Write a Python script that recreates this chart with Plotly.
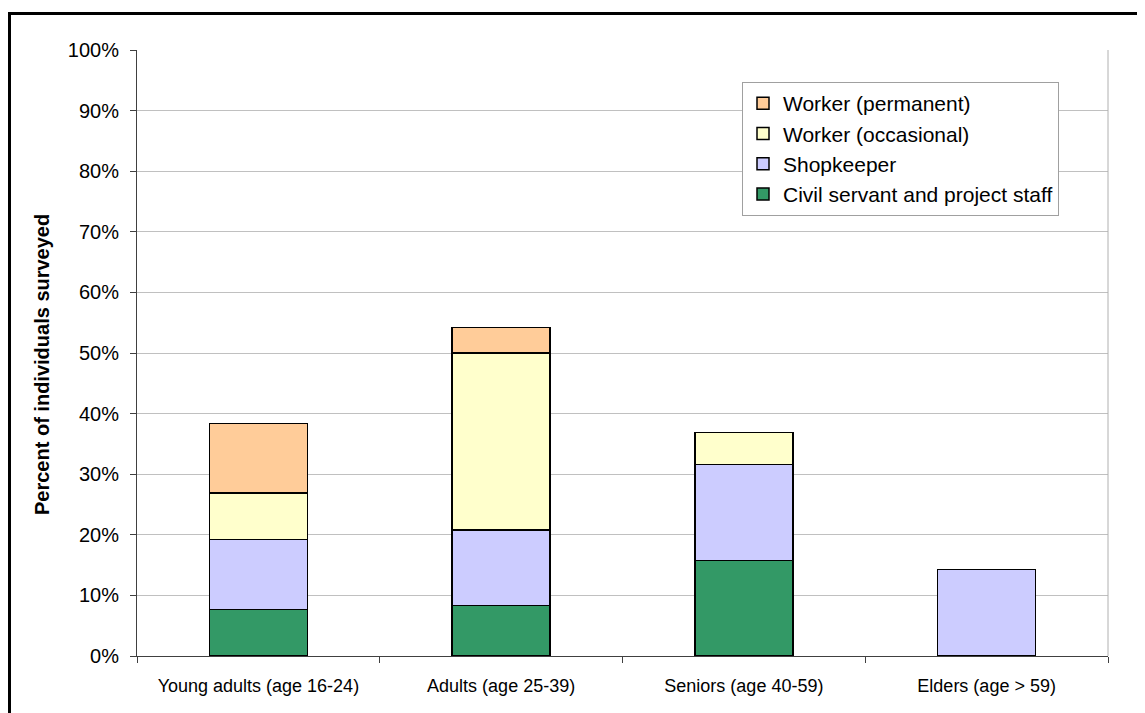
import plotly.graph_objects as go

categories = ["Young adults (age 16-24)", "Adults (age 25-39)", "Seniors (age 40-59)", "Elders (age > 59)"]
civil_servant = [7.7, 8.3, 15.8, 0.0]
shopkeeper = [11.5, 12.5, 15.8, 14.3]
worker_occasional = [7.7, 29.2, 5.3, 0.0]
worker_permanent = [11.5, 4.2, 0.0, 0.0]

series = [
    ("Civil servant and project staff", civil_servant, "#339966"),
    ("Shopkeeper", shopkeeper, "#CCCCFF"),
    ("Worker (occasional)", worker_occasional, "#FFFFCC"),
    ("Worker (permanent)", worker_permanent, "#FFCC99"),
]
y_ticks = list(range(0, 101, 10))
y_tick_labels = [f"{v}%" for v in y_ticks]

FONT = "Liberation Sans, Arial, sans-serif"

fig = go.Figure()
for name, vals, color in series:
    fig.add_trace(go.Bar(
        x=categories, y=vals, name=name,
        marker=dict(color=color, line=dict(color="#000000", width=1.5)),
    ))

# page body has an 8px margin; figure coordinates are screen minus 8
OFF = 8
W, H = 1145 - OFF, 713 - OFF
L, R, T, B = 137 - OFF, 1145 - 1108, 50 - OFF, 713 - 656
pw, ph = W - L - R, H - T - B

def px_x(xs):
    return (xs - OFF - L) / pw

def px_y(ys):
    return (H - B - (ys - OFF)) / ph

fig.update_layout(
    width=W, height=H,
    barmode="stack", bargap=0.596,
    paper_bgcolor="white", plot_bgcolor="white",
    margin=dict(l=L, r=R, t=T, b=B, pad=0),
    font=dict(family=FONT, color="#000000"),
    showlegend=True,
    legend=dict(
        traceorder="reversed",
        x=px_x(1059), y=px_y(82), xanchor="right", yanchor="top",
        bgcolor="white", bordercolor="#a0a0a0", borderwidth=1,
        font=dict(size=21, family=FONT),
        itemclick=False,
    ),
    xaxis=dict(
        type="category",
        showline=True, linecolor="#404040", linewidth=1,
        ticks="outside", ticklen=6, tickcolor="#404040", tickson="boundaries",
        tickfont=dict(size=18, family=FONT),
        ticklabelstandoff=13,
        showgrid=False,
    ),
    yaxis=dict(
        range=[0, 100],
        tickvals=y_ticks, ticktext=y_tick_labels,
        showline=True, linecolor="#404040", linewidth=1,
        ticks="outside", ticklen=6, tickcolor="#404040",
        tickfont=dict(size=20, family=FONT),
        ticklabelstandoff=7,
        showgrid=True, gridcolor="#c0c0c0", gridwidth=1,
        zeroline=False,
    ),
    annotations=[dict(
        text="<b>Percent of individuals surveyed</b>",
        xref="paper", yref="paper", x=px_x(42), y=px_y(365),
        textangle=-90, showarrow=False,
        font=dict(size=20, family=FONT),
        xanchor="center", yanchor="middle",
    )],
    shapes=[
        dict(type="line", xref="paper", yref="paper", x0=1, x1=1, y0=0, y1=1,
             line=dict(color="#b0b0b0", width=1)),
        dict(type="rect", xref="paper", yref="paper",
             x0=px_x(9.5), x1=px_x(1143.5), y0=px_y(13.5), y1=px_y(740),
             line=dict(color="#000000", width=3), fillcolor="rgba(0,0,0,0)", layer="above"),
    ],
)

fig.write_html("out.html")
